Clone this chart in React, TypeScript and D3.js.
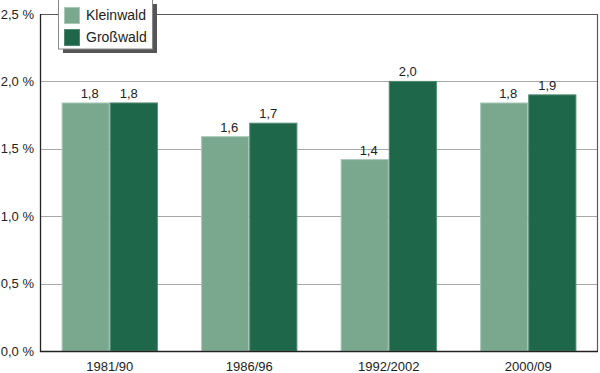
import React, { useEffect, useRef } from 'react';
import * as d3 from 'd3';

// Waldanteil je Periode, Klein- vs. Großwald
const periods = ['1981/90', '1986/96', '1992/2002', '2000/09'];
const seriesNames = ['Kleinwald', 'Großwald'];
const kleinwald = [1.84, 1.59, 1.42, 1.84];
const grosswald = [1.84, 1.69, 2.0, 1.9];
const kleinLabels = ['1,8', '1,6', '1,4', '1,8'];
const grossLabels = ['1,8', '1,7', '2,0', '1,9'];
const yTicks = [0, 0.5, 1.0, 1.5, 2.0, 2.5];

const colors = ['#7aa88f', '#1e674b'];
const strokes = ['#a9c9b8', '#4f8a70'];

export default function App() {
  const ref = useRef<SVGSVGElement>(null);

  useEffect(() => {
    const svg = d3.select(ref.current);
    svg.selectAll('*').remove();

    const W = 600;
    const H = 373;
    const m = { left: 40, right: 2, top: 14, bottom: 22 };

    const x = d3.scaleBand().domain(periods).range([m.left, W - m.right]).paddingInner(0.31).paddingOuter(0.155);
    const xs = d3.scaleBand().domain(seriesNames).range([0, x.bandwidth()]);
    const y = d3.scaleLinear().domain([0, 2.5]).range([H - m.bottom, m.top]);

    const font = '"Liberation Sans", Arial, Helvetica, sans-serif';

    // gridlines
    svg.append('g')
      .selectAll('line')
      .data(yTicks.filter((t) => t > 0 && t < 2.5))
      .join('line')
      .attr('x1', m.left)
      .attr('x2', W - m.right)
      .attr('y1', (d) => Math.round(y(d)) + 0.5)
      .attr('y2', (d) => Math.round(y(d)) + 0.5)
      .attr('stroke', '#a8a8a8')
      .attr('stroke-width', 1);

    // frame top + right
    svg.append('path')
      .attr('d', `M${m.left},${Math.round(y(2.5)) + 0.5}H${W - m.right - 0.5}V${Math.round(y(0))}`)
      .attr('fill', 'none')
      .attr('stroke', '#5a5a5a')
      .attr('stroke-width', 1.2);

    // y tick labels
    svg.append('g')
      .selectAll('text')
      .data(yTicks)
      .join('text')
      .attr('x', 34)
      .attr('y', (d) => y(d) + 4.5)
      .attr('text-anchor', 'end')
      .attr('font-family', font)
      .attr('font-size', 13)
      .attr('fill', '#222')
      .text((d) => d3.format('.1f')(d).replace('.', ',') + ' %');

    // bars
    const data = [kleinwald, grosswald];
    const labels = [kleinLabels, grossLabels];
    seriesNames.forEach((s, si) => {
      const g = svg.append('g');
      const shift = si === 0 ? 4 : -5;
      g.selectAll('rect')
        .data(periods)
        .join('rect')
        .attr('x', (p) => (x(p) as number) + (xs(s) as number) + 0.5)
        .attr('y', (p, i) => y(data[si][i]))
        .attr('width', xs.bandwidth() - 1)
        .attr('height', (p, i) => y(0) - y(data[si][i]))
        .attr('fill', colors[si])
        .attr('stroke', strokes[si])
        .attr('stroke-width', 1);
      g.selectAll('text')
        .data(periods)
        .join('text')
        .attr('x', (p) => (x(p) as number) + (xs(s) as number) + xs.bandwidth() / 2 + shift)
        .attr('y', (p, i) => y(data[si][i]) - 5)
        .attr('text-anchor', 'middle')
        .attr('font-family', font)
        .attr('font-size', 13)
        .attr('fill', '#222')
        .text((p, i) => labels[si][i]);
    });

    // axes lines
    svg.append('line')
      .attr('x1', m.left + 0.5).attr('x2', m.left + 0.5)
      .attr('y1', y(2.5)).attr('y2', y(0) + 1)
      .attr('stroke', '#222').attr('stroke-width', 1.3);
    svg.append('line')
      .attr('x1', m.left).attr('x2', W - m.right)
      .attr('y1', Math.round(y(0)) + 0.5).attr('y2', Math.round(y(0)) + 0.5)
      .attr('stroke', '#222').attr('stroke-width', 1.3);

    // x labels
    svg.append('g')
      .selectAll('text')
      .data(periods)
      .join('text')
      .attr('x', (p) => (x(p) as number) + x.bandwidth() / 2)
      .attr('y', y(0) + 20)
      .attr('text-anchor', 'middle')
      .attr('font-family', font)
      .attr('font-size', 13)
      .attr('fill', '#222')
      .text((d) => d);

    // legend with shadow
    const lg = svg.append('g').attr('transform', 'translate(58,0)');
    lg.append('rect').attr('x', 5).attr('y', 4).attr('width', 94).attr('height', 49).attr('fill', '#555');
    lg.append('rect').attr('x', 0.5).attr('y', -1).attr('width', 94).attr('height', 50)
      .attr('fill', '#fff').attr('stroke', '#888').attr('stroke-width', 1);
    seriesNames.forEach((s, i) => {
      lg.append('rect')
        .attr('x', 6.5).attr('y', 7.5 + i * 22)
        .attr('width', 15).attr('height', 16)
        .attr('fill', colors[i]).attr('stroke', strokes[i]).attr('stroke-width', 1);
      lg.append('text')
        .attr('x', 28).attr('y', 20 + i * 22)
        .attr('font-family', font)
        .attr('font-size', 14)
        .attr('fill', '#222')
        .text(s);
    });
  }, []);

  return (
    <svg ref={ref} width={600} height={373} style={{ position: 'absolute', left: 0, top: 0, background: '#fff' }} />
  );
}
